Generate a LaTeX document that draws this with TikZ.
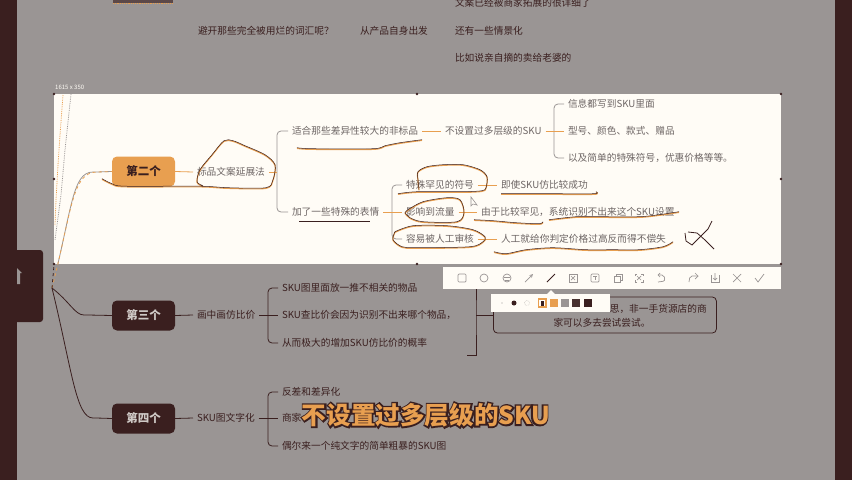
\documentclass[tikz,border=0pt]{standalone}
\usepackage{xcolor}
\usepackage{fontspec}
\setmainfont{Noto Sans CJK SC}
\newfontface\fatface{Noto Sans CJK SC Bold}[FakeBold=14]

\definecolor{fondgris}{HTML}{9A9594}
\definecolor{sombre}{HTML}{3A1F1F}
\definecolor{orangeclair}{HTML}{E89F50}
\definecolor{creme}{HTML}{FFFCF6}
\definecolor{textegris}{HTML}{6E6665}
\definecolor{blancgris}{HTML}{CFC9C6}

\tikzset{
  topicbox/.style={rounded corners=5pt, minimum width=63pt, minimum height=30pt, inner sep=0pt, font=\fontsize{11.5}{12}\selectfont\bfseries},
  leafd/.style={anchor=west, inner sep=0pt, outer sep=4pt, text=sombre, font=\fontsize{9.7}{10}\selectfont},
  leafw/.style={leafd, text=textegris},
  linkd/.style={draw=sombre, line width=0.8pt, rounded corners=4pt},
  linkg/.style={draw=fondgris, line width=0.8pt, rounded corners=4pt},
  linko/.style={draw=orangeclair, line width=0.8pt},
  ghost/.style={line width=0.8pt, densely dotted},
  icone/.style={draw=fondgris, line width=0.7pt},
  soustitre/.style={inner sep=0pt, font=\fontsize{24.6}{26}\selectfont\bfseries},
}

\newcommand{\scribble}[1]{%
  \draw[orangeclair, line width=1.1pt, line join=round, yshift=-0.4pt] plot[smooth] coordinates {#1};
  \draw[sombre, line width=0.5pt, line join=round, yshift=0.3pt] plot[smooth] coordinates {#1};
}

\begin{document}
\begin{tikzpicture}[x=1pt, y=-1pt]

    \useasboundingbox (0,0) rectangle (852,480);

    % Fond et barres laterales
    \fill[fondgris] (0,0) rectangle (852,480);
    \fill[sombre] (0,0) rectangle (17,480);
    \fill[sombre] (835,0) rectangle (852,480);
    \fill[sombre, rounded corners=3pt] (0,250) rectangle (43,322);
    \fill[fondgris] (17,268) -- (22,273) -- (20,273) -- (20,284) -- (17,284) -- cycle;

    % Reste du texte en haut
    \fill[sombre!65!fondgris] (113,0) rectangle (173,3);
    \draw[orangeclair, line width=1.2pt, densely dotted] (113,3.5) -- (173,3.5);
    \node[leafd] (haut1) at (451,3) {文案已经被商家拓展的很详细了};
    \node[leafd] (haut2) at (194,31) {避开那些完全被用烂的词汇呢？};
    \node[leafd] (haut3) at (356,31) {从产品自身出发};
    \node[leafd] (haut4) at (451,31) {还有一些情景化};
    \node[leafd] (haut5) at (451,58) {比如说亲自摘的卖给老婆的};

    % Zone selectionnee
    \fill[creme] (54,94) rectangle (781,264);
    \node[inner sep=0pt, anchor=west, text=creme, font=\fontsize{6}{7}\selectfont] (taille) at (55,87) {1615 x 350};
    \foreach \px/\py in {54/94, 417/94, 781/94, 54/179, 781/179, 54/264, 417/264, 781/264}
        \fill[sombre] (\px,\py) circle (1.4pt);

    % Traces fantomes a gauche
    \draw[ghost, fondgris] (71,94) -- (65,150) -- (61,195) -- (55,240);
    \draw[ghost, orangeclair] (63,95) -- (60,135) -- (58,165) -- (56,200) -- (55,225);

    % Noeuds principaux
    \coordinate (root) at (52,288);
    \node[topicbox, fill=orangeclair, text=sombre] (t2) at (143.5,171.5) {第二个};
    \node[topicbox, fill=sombre, text=blancgris] (t3) at (143.5,315.5) {第三个};
    \node[topicbox, fill=sombre, text=blancgris] (t4) at (143.5,418.5) {第四个};

    % Troncs
    \draw[linkg] (root) .. controls (72,210) and (72,172) .. (97,172) -- (t2.west);
    \draw[linko, dashed] (root) .. controls (72,210) and (72,172) .. (97,172) -- (t2.west);
    \draw[sombre, line width=0.8pt, dashed] (root) -- (54,265);
    \draw[linkd] (root) .. controls (70,302) and (75,315) .. (88,315) -- (t3.west);
    \draw[linkd] (root) .. controls (72,370) and (76,418) .. (97,418) -- (t4.west);

    % Branche du deuxieme
    \node[leafw] (a0) at (193,172) {标品文案延展法};
    \node[leafw] (a1) at (288,131) {适合那些差异性较大的非标品};
    \node[leafw] (a2) at (441,131) {不设置过多层级的SKU};
    \node[leafw] (a3) at (564,104) {信息都写到SKU里面};
    \node[leafw] (a4) at (564,131) {型号、颜色、款式、赠品};
    \node[leafw] (a5) at (564,158) {以及简单的特殊符号，优惠价格等等。};
    \node[leafw] (b0) at (288,212) {加了一些特殊的表情};
    \node[leafw] (b1) at (402,185) {特殊罕见的符号};
    \node[leafw] (b2) at (497,185) {即使SKU仿比较成功};
    \node[leafw] (b3) at (402,212) {影响到流量};
    \node[leafw] (b4) at (477,212) {由于比较罕见，系统识别不出来这个SKU设置};
    \node[leafw] (b5) at (402,239) {容易被人工审核};
    \node[leafw] (b6) at (497,239) {人工就给你判定价格过高反而得不偿失};

    \coordinate (sa) at (277,172);
    \coordinate (sb) at (554,131);
    \coordinate (sc) at (392,212);
    \draw[linkg] (a1.west) -| (sa) |- (b0.west);
    \draw[linkg] (a3.west) -| (sb) |- (a5.west);
    \draw[linkg] (b1.west) -| (sc) |- (b5.west);
    \draw[linko] (t2.east) -- (a0.west);
    \draw[linko] (a0.east) -- (sa);
    \draw[linko] (a1.east) -- (a2.west);
    \draw[linko] (a2.east) -- (a4.west);
    \draw[linko] (b0.east) -- (b3.west);
    \draw[linko] (b1.east) -- (b2.west);
    \draw[linko] (b3.east) -- (b4.west);
    \draw[linko] (b5.east) -- (b6.west);

    % Branche du troisieme
    \node[leafd] (c0) at (193,315) {画中画仿比价};
    \node[leafd] (c1) at (278,288) {SKU图里面放一推不相关的物品};
    \node[leafd] (c2) at (278,315) {SKU查比价会因为识别不出来哪个物品，};
    \node[leafd] (c3) at (278,343) {从而极大的增加SKU仿比价的概率};
    \coordinate (sd) at (268,315);
    \draw[linkd] (c1.west) -| (sd) |- (c3.west);
    \draw[linkd] (t3.east) -- (c0.west);
    \draw[linkd] (c0.east) -- (c2.west);

    % Accolade et remarque
    \node[draw=sombre, line width=0.8pt, rounded corners=4pt, minimum width=223pt, minimum height=36pt, inner sep=0pt, anchor=west] (note) at (493,315) {};
    \node[inner sep=0pt, anchor=east, text=sombre, font=\fontsize{9.7}{10}\selectfont] (note1) at (707,309) {思，非一手货源店的商};
    \node[inner sep=0pt, text=sombre, font=\fontsize{9.7}{10}\selectfont] (note2) at (602,323) {家可以多去尝试尝试。};
    \coordinate (se) at (476,315);
    \coordinate (sf) at (467,355);
    \draw[sombre, line width=0.8pt] (476,285) -- (se) |- (sf);
    \draw[sombre, line width=0.8pt] (se) -- (note.west);

    % Branche du quatrieme
    \node[leafd] (d0) at (193,418) {SKU图文字化};
    \node[leafd] (d1) at (278,392) {反差和差异化};
    \node[leafd] (d2) at (278,418) {商家};
    \node[leafd] (d3) at (278,446) {偶尔来一个纯文字的简单粗暴的SKU图};
    \coordinate (sg) at (268,418);
    \draw[linkd] (d1.west) -| (sg) |- (d3.west);
    \draw[linkd] (t4.east) -- (d0.west);
    \draw[linkd] (d0.east) -- (d2.west);

    % Annotations a main levee
    \scribble{(102,179) (112,184) (125,186.5) (200,186.5) (228,188) (266,188) (273,180) (275,165) (265,155) (245,146) (233,141) (224,141) (212,155) (200,170) (197,182) (203,186)}
    \scribble{(297,148) (312,149) (373,149) (385,146) (400,143) (422,140)}
    \scribble{(299,221.5) (335,221.5) (370,221.5)}
    \scribble{(398,194) (417,192) (463,192) (482,191) (486,188) (487,177) (480,170) (463,165) (443,165) (427,167) (418,172) (418,180) (419,190)}
    \scribble{(501,194) (550,194) (594,194) (596,192)}
    \scribble{(405,213) (410,218) (423,222) (457,222) (464,213) (460,200) (447,198) (423,202) (408,210) (405,213)}
    \scribble{(474,220) (493,221) (516,223) (539,224) (543,222)}
    \scribble{(549,220) (576,217) (599,217) (639,217) (659,215) (679,212)}
    \scribble{(395,232) (393,240) (402,247) (417,248) (470,247) (483,242) (485,237) (473,230) (447,226) (413,226) (395,232)}
    \scribble{(494,252) (506,254) (526,250) (553,248) (586,250) (613,250) (639,250) (663,247) (673,242)}
    \draw[sombre, line width=0.8pt] (688,232) -- (697,233) -- (705,240) -- (714,249);
    \draw[sombre, line width=0.8pt] (685,233) -- (686,241) -- (692,245) -- (700,237) -- (708,229) -- (712,221);

    % Curseur
    \draw[fondgris, fill=creme, line width=0.6pt] (471,197) -- (471,206) -- (473,204) -- (477,205) -- cycle;

    % Barre d'outils
    \fill[creme] (443,267) rectangle (781,289);
    \draw[icone, rounded corners=1pt] (458,274) rectangle (466,282);
    \draw[icone] (484,278) circle (4pt);
    \draw[icone] (507,278) circle (4pt);
    \draw[icone] (504,277) -- (510,277) (505,280) -- (509,280);
    \draw[icone, ->, >=stealth] (525,282) -- (533,274);
    \draw[sombre, line width=1pt] (547,282) -- (555,274);
    \draw[icone] (569,274) rectangle (577,282);
    \draw[icone] (571,276) -- (575,280) (575,276) -- (571,280);
    \draw[icone, rounded corners=1pt] (591,274) rectangle (599,282);
    \draw[icone] (593,276) -- (597,276) (595,276) -- (595,280);
    \draw[icone] (614,276) rectangle (620,282);
    \draw[icone] (616,276) -- (616,274) -- (622,274) -- (622,280) -- (620,280);
    \draw[icone] (635,276) -- (635,274) -- (637,274) (641,274) -- (643,274) -- (643,276) (643,280) -- (643,282) -- (641,282) (637,282) -- (635,282) -- (635,280);
    \draw[icone] (637,276) -- (641,280) (641,276) -- (637,280);
    \draw[icone, rounded corners=2pt] (658,275) -- (664,275) -- (665,281) -- (658,282);
    \draw[icone] (660,273) -- (658,275) -- (660,277);
    \draw[icone, rounded corners=2pt] (689,282) -- (690,276) -- (698,276);
    \draw[icone] (695,273) -- (698,276) -- (695,279);
    \draw[icone] (711,275) -- (711,282) -- (719,282) -- (719,275);
    \draw[icone] (715,273) -- (715,280) (713,278) -- (715,280) -- (717,278);
    \draw[icone] (733,274) -- (741,282) (741,274) -- (733,282);
    \draw[icone] (755,278) -- (758,282) -- (764,274);

    % Palette
    \fill[creme] (491,294) rectangle (610,312);
    \fill[creme] (547,294) -- (551,290) -- (555,294) -- cycle;
    \fill[fondgris] (502,303) circle (0.7pt);
    \fill[sombre] (514,303) circle (2.5pt);
    \draw[fondgris, densely dotted] (527,303) circle (2.5pt);
    \draw[orangeclair, fill=creme, line width=1.2pt] (538.5,299) rectangle (546,307);
    \fill[sombre] (541,300.5) rectangle (544,305.5);
    \fill[orangeclair] (550,299) rectangle (558,307);
    \fill[fondgris] (561,299) rectangle (569,307);
    \fill[sombre!85!fondgris] (572,299) rectangle (580,307);
    \fill[sombre] (584,299) rectangle (592,307);

    % Sous-titre : contour sombre sous le texte orange
    \node[soustitre, text=orangeclair] (sub) at (426,415) {\rlap{\color{sombre}\fatface 不设置过多层级的SKU}不设置过多层级的SKU};

\end{tikzpicture}
\end{document}
